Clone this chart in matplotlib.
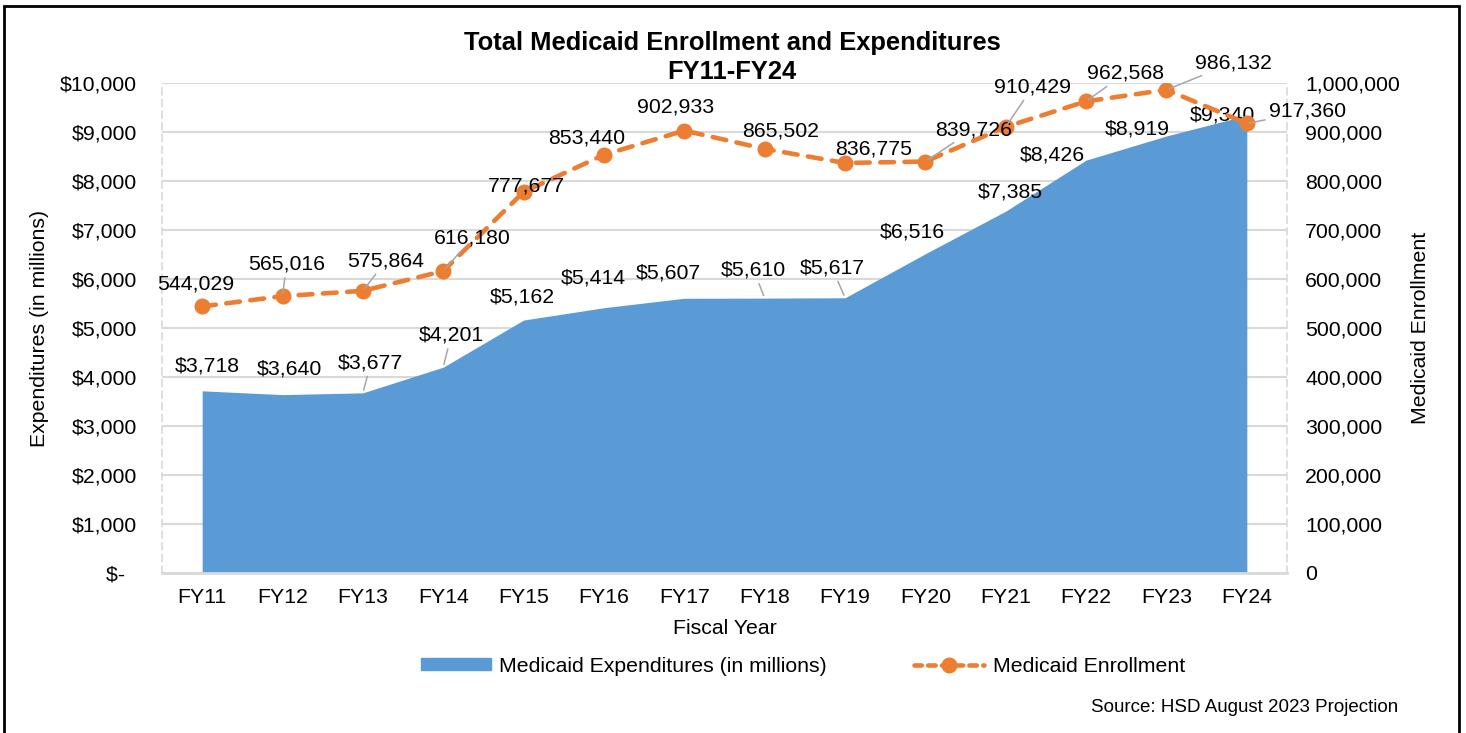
import matplotlib
matplotlib.use("Agg")
import matplotlib.pyplot as plt
import matplotlib.patches as mpatches
from matplotlib.lines import Line2D
from matplotlib.ticker import FuncFormatter

plt.rcParams["font.family"] = ["Liberation Sans", "DejaVu Sans"]

years = ["FY11", "FY12", "FY13", "FY14", "FY15", "FY16", "FY17",
         "FY18", "FY19", "FY20", "FY21", "FY22", "FY23", "FY24"]
expenditures = [3718, 3640, 3677, 4201, 5162, 5414, 5607,
                5610, 5617, 6516, 7385, 8426, 8919, 9340]
enrollment = [544029, 565016, 575864, 616180, 777677, 853440, 902933,
              865502, 836775, 839726, 910429, 962568, 986132, 917360]

# label offsets in pixels (dx, dy), and which labels get a leader line
exp_offsets = [(5, 25), (7, 26), (8, 30), (8, 32), (-1, 23), (-11, 30), (-16, 25),
               (-11, 28), (-13, 30), (-13, 22), (5, 19), (-34, 5), (-29, 7), (-24, 0)]
exp_leaders = {2, 3, 7, 8}
enr_offsets = [(-6, 22), (4, 32), (23, 30), (29, 33), (3, 6), (-17, 17), (-9, 24),
               (16, 18), (29, 14), (48, 32), (27, 40), (39, 28), (67, 27), (61, 12)]
enr_leaders = {1, 2, 3, 9, 10, 11, 12, 13}

BLUE = "#5B9BD5"
ORANGE = "#ED7D31"
GRID = "#D9D9D9"
LEADER = "#A6A6A6"
FS = 15.3

fig = plt.figure(figsize=(14.66, 7.33), dpi=100)
ax = fig.add_axes([162 / 1466, 160 / 733, 1125 / 1466, 490 / 733])
ax2 = ax.twinx()

x = list(range(len(years)))

ax.fill_between(x, expenditures, color=BLUE, linewidth=0, zorder=2)
ax.set_xlim(-0.5, len(years) - 0.5)
ax.set_ylim(0, 10000)
ax.set_yticks(range(0, 10001, 1000))
ax.yaxis.set_major_formatter(FuncFormatter(lambda v, p: "$-  " if v == 0 else f"${v:,.0f}"))
ax.set_xticks(x)
ax.set_xticklabels(years)
ax.grid(axis="y", color=GRID, linewidth=1.5, zorder=1)
ax.set_axisbelow(True)
ax.tick_params(axis="both", length=0, labelsize=FS)
ax.tick_params(axis="y", pad=18)
ax.tick_params(axis="x", pad=11)

for side in ["left", "right"]:
    ax.spines[side].set_color(GRID)
    ax.spines[side].set_linestyle((0, (4, 3)))
    ax.spines[side].set_linewidth(1.2)
    ax2.spines[side].set_visible(False)
ax.spines["top"].set_visible(False)
ax2.spines["top"].set_visible(False)
ax.spines["bottom"].set_color(GRID)
ax.spines["bottom"].set_linewidth(2)
ax2.spines["bottom"].set_visible(False)

ax.set_xlabel("Fiscal Year", fontsize=FS)
ax.xaxis.set_label_coords(0.5, -0.094)
ax.set_ylabel("Expenditures (in millions)", fontsize=FS)
ax.yaxis.set_label_coords(-0.100, 0.5)

ax2.plot(x, enrollment, color=ORANGE, linewidth=3.3, dashes=(3.0, 2.3),
         dash_capstyle="round", marker="o", markersize=10.5, zorder=4)
ax2.set_ylim(0, 1000000)
ax2.set_yticks(range(0, 1000001, 100000))
ax2.yaxis.set_major_formatter(FuncFormatter(lambda v, p: f"{v:,.0f}"))
ax2.tick_params(axis="y", length=0, labelsize=FS, pad=13)
ax2.set_ylabel("Medicaid Enrollment", fontsize=FS)
ax2.yaxis.set_label_coords(1.110, 0.5)

leader_props = dict(arrowstyle="-", color=LEADER, lw=1.1, shrinkA=1, shrinkB=2)

for i, v in enumerate(expenditures):
    dx, dy = exp_offsets[i]
    ax.annotate(f"${v:,}", (x[i], v), xytext=(dx, dy), textcoords="offset pixels",
                ha="center", va="center", fontsize=FS, zorder=5,
                arrowprops=leader_props if i in exp_leaders else None)

for i, v in enumerate(enrollment):
    dx, dy = enr_offsets[i]
    ax2.annotate(f"{v:,}", (x[i], v), xytext=(dx, dy), textcoords="offset pixels",
                 ha="center", va="center", fontsize=FS, zorder=5,
                 arrowprops=leader_props if i in enr_leaders else None)

fig.text(732 / 1466, 1 - 43 / 733, "Total Medicaid Enrollment and Expenditures",
         ha="center", va="center", fontsize=18.4, fontweight="bold")
fig.text(732 / 1466, 1 - 72 / 733, "FY11-FY24",
         ha="center", va="center", fontsize=18.4, fontweight="bold")

handles = [mpatches.Patch(color=BLUE, label="Medicaid Expenditures (in millions)"),
           Line2D([0], [0], color=ORANGE, linewidth=3.3, dashes=(1.6, 1.4),
                  dash_capstyle="round", marker="o", markersize=10.5,
                  label="Medicaid Enrollment")]
fig.legend(handles=handles, loc="center", bbox_to_anchor=(803 / 1466, 1 - 666 / 733),
           ncol=2, frameon=False, fontsize=FS, handlelength=3.3, handleheight=0.5,
           handletextpad=0.4, columnspacing=4.1)

fig.text(1398 / 1466, 1 - 707 / 733, "Source: HSD August 2023 Projection",
         ha="right", va="center", fontsize=13.5)

fig.patches.append(mpatches.Rectangle((4 / 1466, -0.02), 1455 / 1466, 1.02 - 6 / 733,
                                      transform=fig.transFigure, fill=False,
                                      edgecolor="black", linewidth=2))

fig.savefig("out.png", dpi=100)
